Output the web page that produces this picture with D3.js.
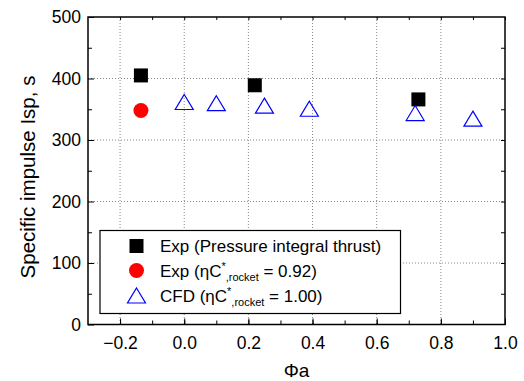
<!DOCTYPE html>
<html>
<head>
<meta charset="utf-8">
<script src="https://d3js.org/d3.v7.min.js"></script>
<style>
  body { margin: 0; background: #fff; }
  text { font-family: "Liberation Sans", Arial, sans-serif; fill: #000; }
</style>
</head>
<body>
<div id="chart"></div>
<script>
// data
var expPhi = [-0.135, 0.22, 0.73];
var expIsp = [405, 389, 366];
var etaPhi = [-0.135];
var etaIsp = [348];
var cfdPhi = [0.0, 0.1, 0.25, 0.39, 0.72, 0.9];
var cfdIsp = [361, 359, 355, 350, 343, 334];
var xTicks = [-0.2, 0.0, 0.2, 0.4, 0.6, 0.8, 1.0];
var yTicks = [0, 100, 200, 300, 400, 500];

var W = 524, H = 381;
var m = {left: 88, top: 17, right: 505, bottom: 324.5};

var svg = d3.select("#chart").append("svg")
    .attr("width", W).attr("height", H);

var x = d3.scaleLinear().domain([-0.3, 1.0]).range([m.left, m.right]);
var y = d3.scaleLinear().domain([0, 500]).range([m.bottom, m.top]);

// grid
svg.append("g").selectAll("line")
    .data(xTicks.filter(function(d) { return d < 1.0; }))
    .enter().append("line")
    .attr("x1", function(d) { return x(d); }).attr("x2", function(d) { return x(d); })
    .attr("y1", m.top).attr("y2", m.bottom)
    .attr("stroke", "#888").attr("stroke-width", 1).attr("stroke-dasharray", "1,2");
svg.append("g").selectAll("line")
    .data([100, 200, 300, 400])
    .enter().append("line")
    .attr("x1", m.left).attr("x2", m.right)
    .attr("y1", function(d) { return y(d); }).attr("y2", function(d) { return y(d); })
    .attr("stroke", "#888").attr("stroke-width", 1).attr("stroke-dasharray", "1,2");

// axes with inward ticks
var minorX = d3.range(-0.2, 1.01, 0.1);
var minorY = d3.range(50, 500, 100);

svg.append("g")
    .attr("transform", "translate(0," + m.bottom + ")")
    .call(d3.axisBottom(x).tickValues(xTicks).tickSize(-6).tickPadding(12)
        .tickFormat(function(d) { return d3.format(".1f")(d).replace("-", "\u2212"); }))
    .call(function(g) {
        g.select(".domain").remove();
        g.selectAll("text").attr("font-size", "17.5px");
    });
svg.append("g")
    .attr("transform", "translate(0," + m.bottom + ")")
    .call(d3.axisBottom(x).tickValues(minorX).tickSize(-4).tickFormat(""))
    .call(function(g) { g.select(".domain").remove(); });
svg.append("g")
    .attr("transform", "translate(0," + m.top + ")")
    .call(d3.axisTop(x).tickValues(minorX).tickSize(-3).tickFormat(""))
    .call(function(g) { g.select(".domain").remove(); });

svg.append("g")
    .attr("transform", "translate(" + m.left + ",0)")
    .call(d3.axisLeft(y).tickValues(yTicks).tickSize(-6).tickPadding(7))
    .call(function(g) {
        g.select(".domain").remove();
        g.selectAll("text").attr("font-size", "17.5px");
    });
svg.append("g")
    .attr("transform", "translate(" + m.left + ",0)")
    .call(d3.axisLeft(y).tickValues(minorY).tickSize(-4).tickFormat(""))
    .call(function(g) { g.select(".domain").remove(); });
svg.append("g")
    .attr("transform", "translate(" + m.right + ",0)")
    .call(d3.axisRight(y).tickValues(d3.range(50, 500, 50)).tickSize(-4).tickFormat(""))
    .call(function(g) { g.select(".domain").remove(); });

// frame
svg.append("rect")
    .attr("x", m.left).attr("y", m.top)
    .attr("width", m.right - m.left).attr("height", m.bottom - m.top)
    .attr("fill", "none").attr("stroke", "#000").attr("stroke-width", 1.5);

// titles
svg.append("text")
    .attr("x", x(0.35)).attr("y", 377)
    .attr("text-anchor", "middle").attr("font-size", "19px")
    .text("\u03A6a");
svg.append("text")
    .attr("transform", "translate(35,177) rotate(-90)")
    .attr("text-anchor", "middle").attr("font-size", "20.5px")
    .text("Specific impulse Isp, s");

// markers
svg.append("g").selectAll("rect")
    .data(expPhi).enter().append("rect")
    .attr("x", function(d) { return x(d) - 7; })
    .attr("y", function(d, i) { return y(expIsp[i]) - 7; })
    .attr("width", 14).attr("height", 14).attr("fill", "#000");

svg.append("g").selectAll("circle")
    .data(etaPhi).enter().append("circle")
    .attr("cx", function(d) { return x(d); })
    .attr("cy", function(d, i) { return y(etaIsp[i]); })
    .attr("r", 7.5).attr("fill", "#ff0000");

function triPath(cx, cy) {
    return "M" + cx + "," + (cy - 8) + "L" + (cx + 9) + "," + (cy + 7) + "L" + (cx - 9) + "," + (cy + 7) + "Z";
}
svg.append("g").selectAll("path")
    .data(cfdPhi).enter().append("path")
    .attr("d", function(d, i) { return triPath(x(d), y(cfdIsp[i])); })
    .attr("fill", "none").attr("stroke", "#0000ff").attr("stroke-width", 1.2);

// legend
var lg = svg.append("g");
lg.append("rect")
    .attr("x", 100).attr("y", 230.5).attr("width", 300.5).attr("height", 83)
    .attr("fill", "#fff").attr("stroke", "#000").attr("stroke-width", 1.2);
var ly = [246, 270.5, 296];
var lx = 136.5, tx = 160;
lg.append("rect").attr("x", lx - 7).attr("y", ly[0] - 7).attr("width", 14).attr("height", 14).attr("fill", "#000");
lg.append("circle").attr("cx", lx).attr("cy", ly[1]).attr("r", 7.5).attr("fill", "#ff0000");
lg.append("path").attr("d", triPath(lx, ly[2])).attr("fill", "none").attr("stroke", "#0000ff").attr("stroke-width", 1.2);

var fs = "17px";
lg.append("text").attr("x", tx).attr("y", ly[0] + 6).attr("font-size", fs)
    .text("Exp (Pressure integral thrust)");

function etaLabel(yy, pre, val) {
    var t = lg.append("text").attr("x", tx).attr("y", yy + 6).attr("font-size", fs);
    t.append("tspan").text(pre + " (\u03B7C");
    t.append("tspan").attr("font-size", "11px").attr("dy", -7).text("*");
    t.append("tspan").attr("font-size", "11px").attr("dy", 11).text(",rocket");
    t.append("tspan").attr("dy", -4).text(" = " + val + ")");
}
etaLabel(ly[1], "Exp", "0.92");
etaLabel(ly[2], "CFD", "1.00");
</script>
</body>
</html>
